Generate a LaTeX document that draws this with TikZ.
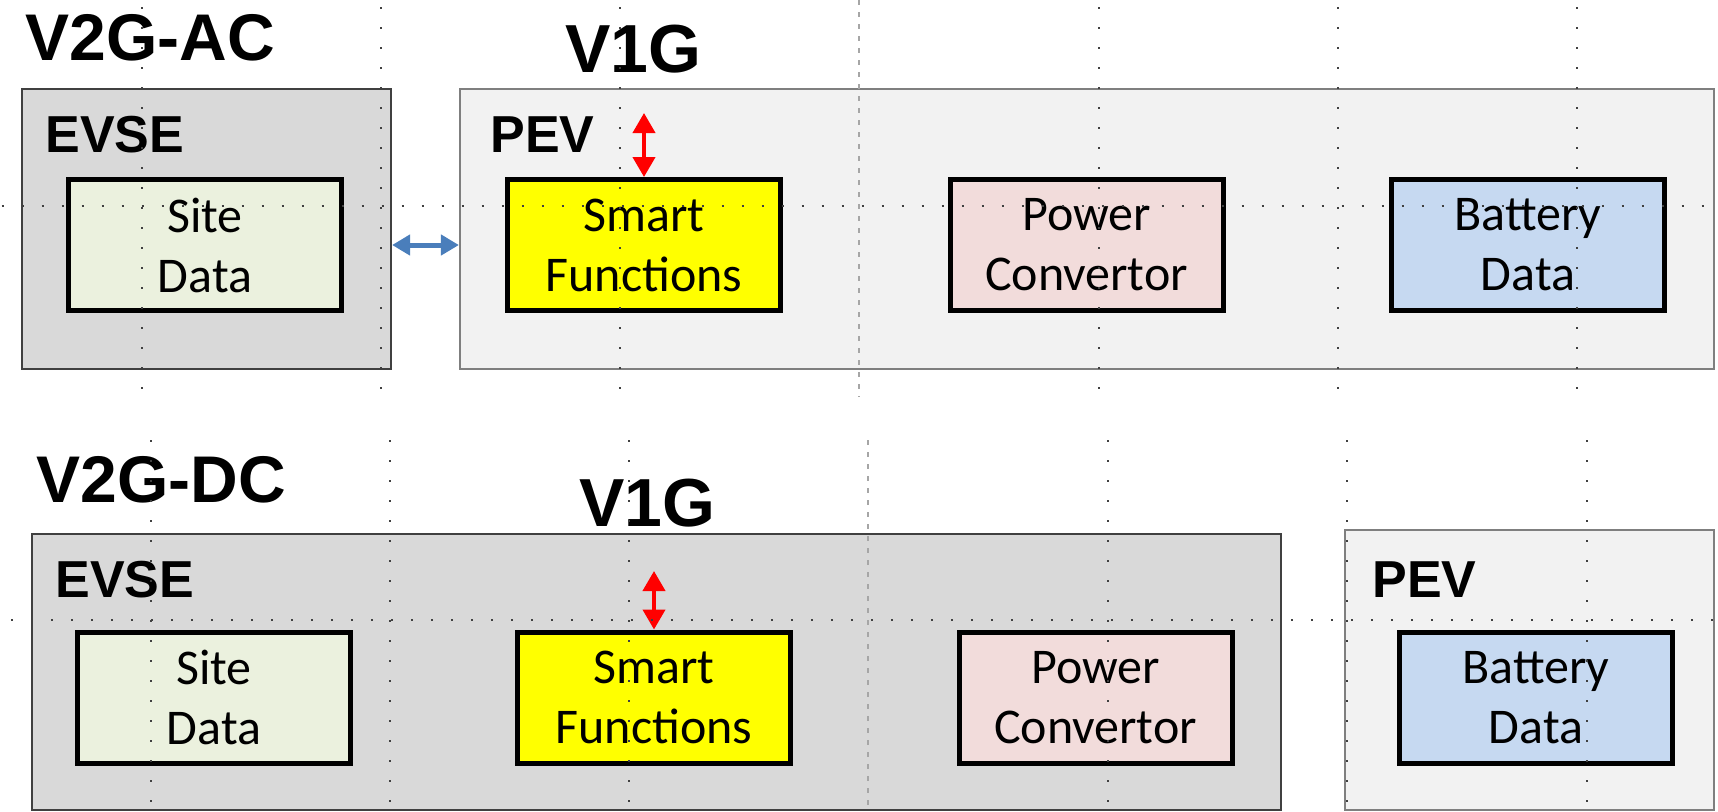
\documentclass[tikz,border=0pt]{standalone}
\usepackage{fontspec}
\setmainfont{Liberation Sans}
\newfontfamily\boxfont{Carlito}
\usetikzlibrary{arrows.meta,fit}

\definecolor{evsefill}{HTML}{D9D9D9}
\definecolor{pevfill}{HTML}{F2F2F2}
\definecolor{sitefill}{HTML}{EBF1DE}
\definecolor{smartfill}{HTML}{FFFF00}
\definecolor{powerfill}{HTML}{F2DCDB}
\definecolor{battfill}{HTML}{C6D9F1}
\definecolor{linkblue}{HTML}{4A7EBB}
\definecolor{dotgray}{HTML}{404040}
\definecolor{axisgray}{HTML}{A6A6A6}
\definecolor{evseline}{HTML}{404040}
\definecolor{pevline}{HTML}{7F7F7F}

\begin{document}
\begin{tikzpicture}[x=0.5pt,y=-0.5pt,
  title/.style={anchor=base west, inner sep=0pt, font=\bfseries\fontsize{33}{33}\selectfont},
  v1g/.style={anchor=base west, inner sep=0pt, font=\bfseries\fontsize{34}{34}\selectfont},
  sublabel/.style={anchor=base west, inner sep=0pt, font=\bfseries\fontsize{26}{26}\selectfont},
  evsebox/.style={draw=evseline, line width=1.1pt, fill=evsefill, inner sep=0pt},
  pevbox/.style={draw=pevline, line width=1.1pt, fill=pevfill, inner sep=0pt},
  unit/.style={draw=black, line width=2.5pt, minimum width=136.5pt, minimum height=65.5pt,
    inner sep=0pt, align=center, font=\boxfont\fontsize{25}{30}\selectfont},
  redlink/.style={draw=red, line width=2pt,
    {Triangle[width=11pt,length=10pt]}-{Triangle[width=11pt,length=10pt]}},
  bluelink/.style={draw=linkblue, line width=2.5pt,
    {Triangle[width=10pt,length=9pt]}-{Triangle[width=10pt,length=9pt]}},
  griddot/.style={draw=dotgray, line width=1pt, dash pattern=on 1pt off 9pt},
  gridaxis/.style={draw=axisgray, line width=1pt, dash pattern=on 2.5pt off 3.5pt}
]
\useasboundingbox (0,0) rectangle (1718,811);

% ---------- V2G-AC ----------
\node[title] (acTitle) at (25,60) {V2G-AC};
\node[v1g] (acV1G) at (565,72) {V1G};

\node[evsebox, fit={(22,89) (391,369)}] (evse1) {};
\node[pevbox, fit={(460,89) (1714,369)}] (pev1) {};
\node[sublabel] (evse1Label) at (45,152) {EVSE};
\node[sublabel] (pev1Label) at (490,152) {PEV};

\node[unit, fill=sitefill]  (sd1) at (205,245)    {Site\\Data};
\node[unit, fill=smartfill] (sf1) at (644,245)    {Smart\\Functions};
\node[unit, fill=powerfill] (pc1) at (1086.5,245) {Power\\Convertor};
\node[unit, fill=battfill]  (bd1) at (1528,245)   {Battery\\Data};

\draw[bluelink] (sd1.center -| evse1.east) -- (sd1.center -| pev1.west);
\coordinate (acTop) at (644,113);
\draw[redlink] (sf1.north) -- (acTop);

% ---------- V2G-DC ----------
\node[title] (dcTitle) at (36,502) {V2G-DC};
\node[v1g] (dcV1G) at (579,526) {V1G};

\node[evsebox, fit={(32,534) (1281,810)}] (evse2) {};
\node[pevbox, fit={(1345,530) (1714,810)}] (pev2) {};
\node[sublabel] (evse2Label) at (55,597) {EVSE};
\node[sublabel] (pev2Label) at (1372,597) {PEV};

\node[unit, fill=sitefill]  (sd2) at (214,697.5)    {Site\\Data};
\node[unit, fill=smartfill] (sf2) at (654,697.5)    {Smart\\Functions};
\node[unit, fill=powerfill] (pc2) at (1095.5,697.5) {Power\\Convertor};
\node[unit, fill=battfill]  (bd2) at (1536,697.5)   {Battery\\Data};

\coordinate (dcTop) at (654,571);
\draw[redlink] (sf2.north) -- (dcTop);

% ---------- guide grid ----------
\foreach \gx in {141.5,380.5,619.5,1098.5,1337.5,1577}
  \draw[griddot] (\gx,7) -- (\gx,392);
\draw[gridaxis] (859,0) -- (859,397);
\draw[griddot] (1.5,206) -- (1718,206);

\foreach \gx in {151,390,629,1108,1347,1587}
  \draw[griddot] (\gx,440) -- (\gx,811);
\draw[gridaxis] (868,440) -- (868,811);
\draw[griddot] (11,620) -- (1718,620);
\end{tikzpicture}
\end{document}
